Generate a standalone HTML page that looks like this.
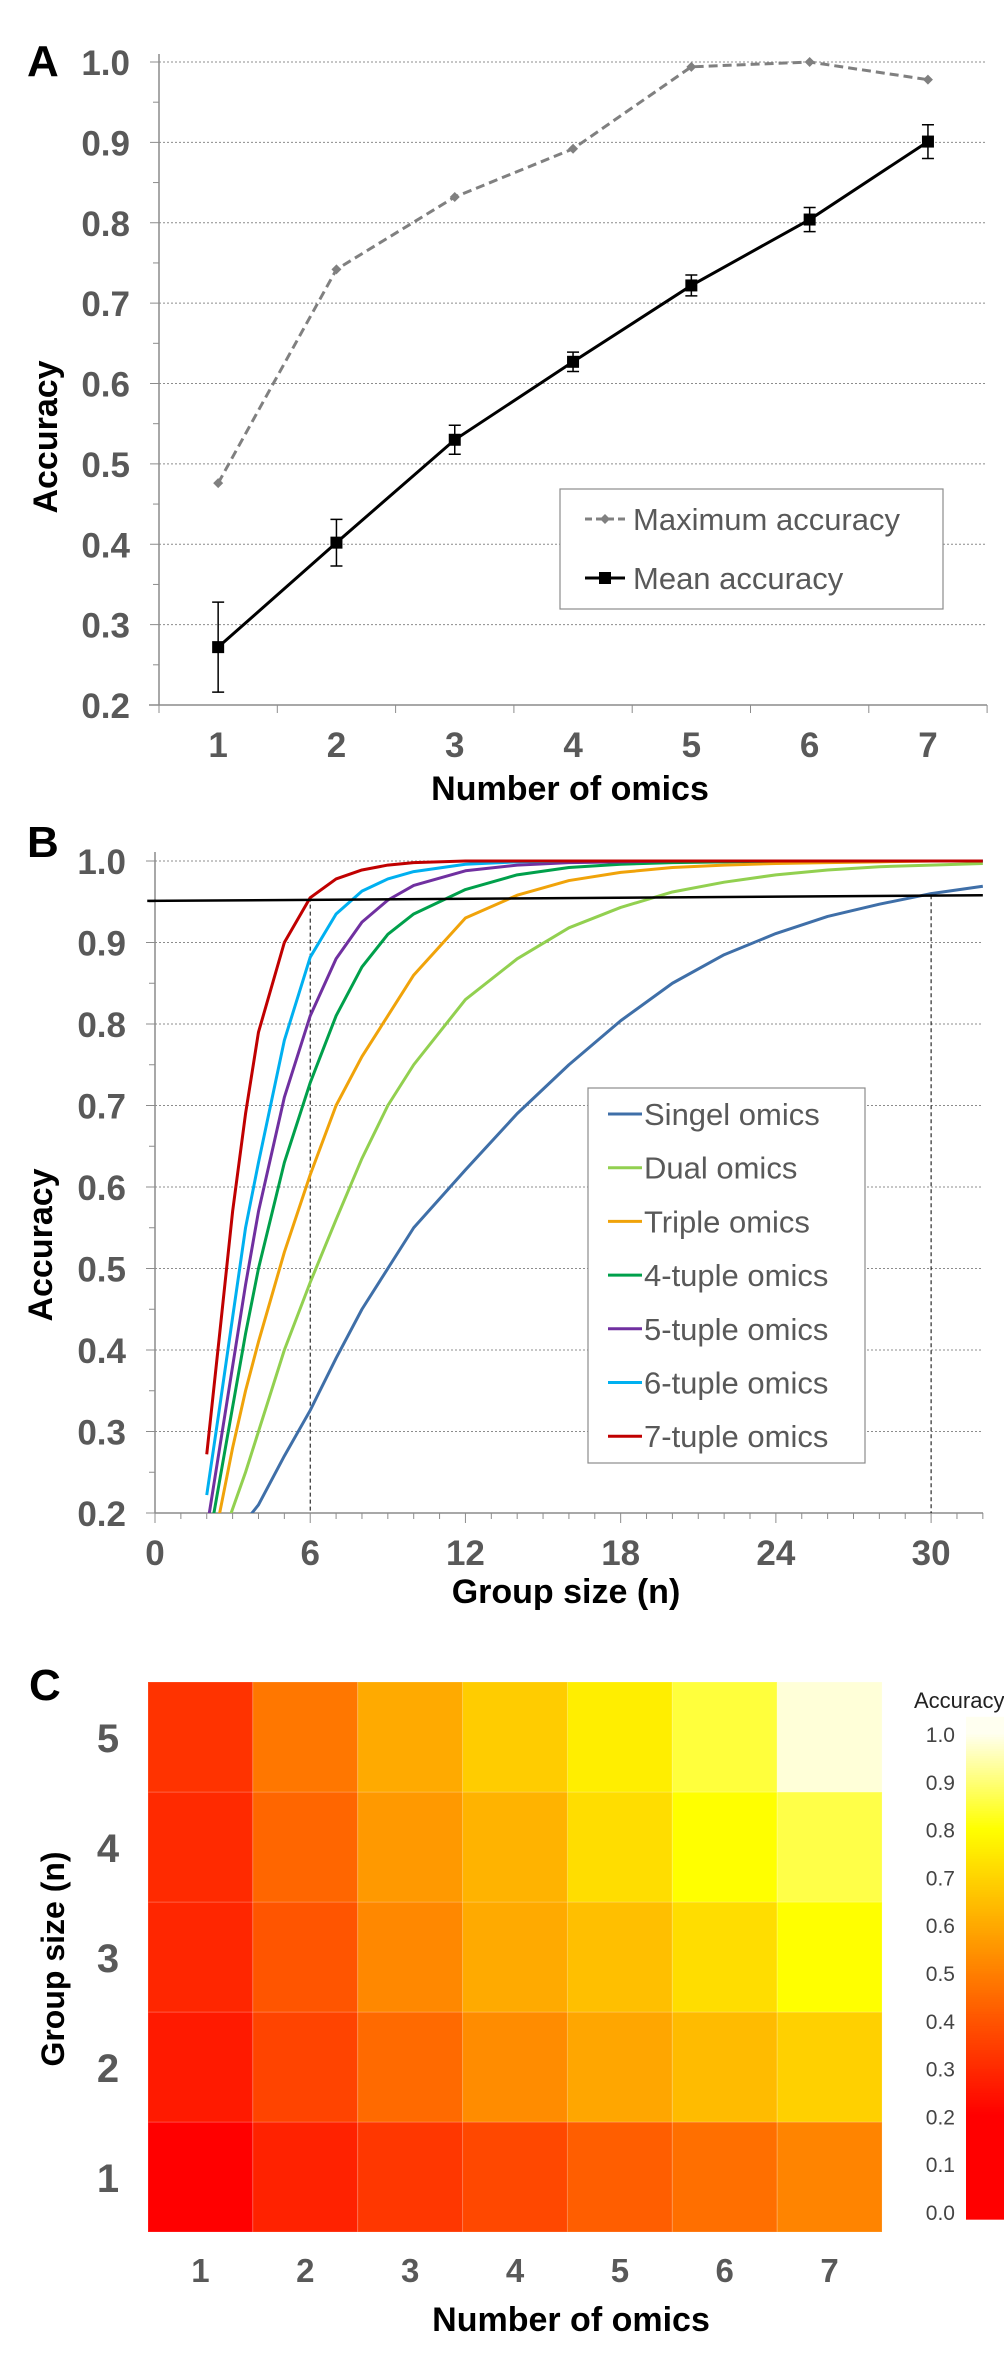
<!DOCTYPE html>
<html><head><meta charset="utf-8"><style>
html,body{margin:0;padding:0;background:#fff;}
svg{display:block;font-family:"Liberation Sans",sans-serif;}
</style></head><body>
<svg id="fig" width="1004" height="2355" viewBox="0 0 1004 2355" xmlns="http://www.w3.org/2000/svg">
<defs><clipPath id="clipB"><rect x="155" y="840" width="829" height="673"/></clipPath></defs>
<g id="pa"></g>
<g id="pb"></g>
<g id="pc"></g>
</svg>
<script>
// ---------- Panel A data ----------
const omicsCats = [1,2,3,4,5,6,7];
const maxAcc = [0.476,0.742,0.832,0.892,0.994,1.0,0.978];
const meanAcc = [0.272,0.402,0.530,0.627,0.722,0.804,0.901];
const meanErr = [0.056,0.029,0.018,0.012,0.013,0.015,0.021];
const aTicks = [0.2,0.3,0.4,0.5,0.6,0.7,0.8,0.9,1.0];
// ---------- Panel B data ----------
const groupN = [2,2.5,3,3.5,4,5,6,7,8,9,10,12,14,16,18,20,22,24,26,28,30,32];
const singleOmics = [0.10,0.13,0.16,0.19,0.21,0.27,0.326,0.39,0.45,0.50,0.55,0.621,0.69,0.75,0.804,0.85,0.885,0.911,0.932,0.947,0.96,0.969];
const dualOmics = [0.11,0.16,0.205,0.25,0.30,0.40,0.483,0.56,0.635,0.70,0.75,0.83,0.88,0.918,0.943,0.962,0.974,0.983,0.989,0.993,0.995,0.997];
const tripleOmics = [0.12,0.20,0.28,0.35,0.41,0.52,0.615,0.70,0.76,0.81,0.86,0.93,0.958,0.976,0.986,0.992,0.995,0.997,0.998,0.999,1,1];
const tuple4 = [0.15,0.24,0.33,0.42,0.50,0.63,0.728,0.81,0.87,0.91,0.935,0.965,0.983,0.992,0.996,0.998,0.999,1,1,1,1,1];
const tuple5 = [0.18,0.28,0.38,0.48,0.57,0.71,0.81,0.88,0.925,0.952,0.97,0.988,0.995,0.998,0.999,1,1,1,1,1,1,1];
const tuple6 = [0.222,0.33,0.44,0.55,0.63,0.78,0.882,0.935,0.963,0.978,0.987,0.996,0.999,1,1,1,1,1,1,1,1,1];
const tuple7 = [0.272,0.42,0.57,0.69,0.79,0.90,0.955,0.978,0.989,0.995,0.998,1,1,1,1,1,1,1,1,1,1,1];
const seriesNames = ["Singel omics","Dual omics","Triple omics","4-tuple omics","5-tuple omics","6-tuple omics","7-tuple omics"];
const seriesColors = ["#3f6fa8","#92d050","#f0a30a","#00a04b","#7030a0","#00b0f0","#c00000"];
const bTicksY = [0.2,0.3,0.4,0.5,0.6,0.7,0.8,0.9,1.0];
const bTicksX = [0,6,12,18,24,30];
const thresholdX = [-0.3,32];
const thresholdY = [0.951,0.958];
const dropX = [6,30];
const dropY = [0.955,0.958];
// ---------- Panel C data ----------
const heatCols = [1,2,3,4,5,6,7];
const heatRows = [1,2,3,4,5];
const heatRow1 = [0.20,0.28,0.33,0.37,0.42,0.46,0.51];
const heatRow2 = [0.26,0.36,0.45,0.53,0.59,0.64,0.69];
const heatRow3 = [0.29,0.40,0.52,0.60,0.65,0.72,0.80];
const heatRow4 = [0.30,0.44,0.56,0.62,0.72,0.80,0.86];
const heatRow5 = [0.32,0.48,0.60,0.68,0.76,0.85,0.98];
const cbTicks = [0.0,0.1,0.2,0.3,0.4,0.5,0.6,0.7,0.8,0.9,1.0];

const NS="http://www.w3.org/2000/svg";
function mk(parent,tag,attrs,text){const e=document.createElementNS(NS,tag);for(const k in attrs)e.setAttribute(k,attrs[k]);if(text!==undefined)e.textContent=text;parent.appendChild(e);return e;}
const pa=document.getElementById('pa'),pb=document.getElementById('pb'),pc=document.getElementById('pc');
const GREY="#595959";

// ================= Panel A =================
const xA=i=>159+(i+0.5)*118.3;
const yA=v=>62+(1-v)*803.75;
let t=mk(pa,'text',{x:27,y:76,'font-size':44,'font-weight':'bold',fill:'#000'},'A');


aTicks.forEach(v=>{
  if(v>0.21){const g=mk(pa,'line',{x1:159,x2:987,y1:yA(v),y2:yA(v),stroke:'#8c8c8c','stroke-width':1,'stroke-dasharray':'2,2'});
  
  }
  mk(pa,'line',{x1:150,x2:159,y1:yA(v),y2:yA(v),stroke:'#8c8c8c'});
  const l=mk(pa,'text',{x:130,y:yA(v)+13,'font-size':35,'font-weight':'bold',fill:GREY,'text-anchor':'end'},v.toFixed(1));
  
  
});
for(let v=0.25;v<1;v+=0.1){mk(pa,'line',{x1:153,x2:159,y1:yA(v),y2:yA(v),stroke:'#8c8c8c'});}
mk(pa,'line',{x1:159,x2:159,y1:54,y2:705,stroke:'#8c8c8c','stroke-width':1.5});
mk(pa,'line',{x1:149,x2:987,y1:705,y2:705,stroke:'#8c8c8c','stroke-width':1.5});
for(let k=0;k<=7;k++){mk(pa,'line',{x1:159+k*118.3,x2:159+k*118.3,y1:705,y2:713,stroke:'#8c8c8c'});}
omicsCats.forEach((c,i)=>{
  const l=mk(pa,'text',{x:xA(i),y:757,'font-size':35,'font-weight':'bold',fill:GREY,'text-anchor':'middle'},String(c));
  
  
});
t=mk(pa,'text',{x:570,y:800,'font-size':34,'font-weight':'bold',fill:'#000','text-anchor':'middle'},'Number of omics');


t=mk(pa,'text',{x:0,y:0,'font-size':34,'font-weight':'bold',fill:'#000','text-anchor':'middle',transform:'translate(57,437) rotate(-90)'},'Accuracy');


// max series
let pts=maxAcc.map((v,i)=>xA(i)+','+yA(v)).join(' ');
let ln=mk(pa,'polyline',{points:pts,fill:'none',stroke:'#808080','stroke-width':3,'stroke-dasharray':'9,5'});


maxAcc.forEach((v,i)=>{const x=xA(i),y=yA(v);
  const d=mk(pa,'polygon',{points:`${x},${y-5} ${x+5},${y} ${x},${y+5} ${x-5},${y}`,fill:'#808080'});
  
  
});
// mean series
meanAcc.forEach((v,i)=>{const x=xA(i);
  const e=mk(pa,'path',{d:`M${x},${yA(v+meanErr[i])}V${yA(v-meanErr[i])}M${x-6},${yA(v+meanErr[i])}H${x+6}M${x-6},${yA(v-meanErr[i])}H${x+6}`,stroke:'#000','stroke-width':1.5,fill:'none'});
  
  
});
pts=meanAcc.map((v,i)=>xA(i)+','+yA(v)).join(' ');
ln=mk(pa,'polyline',{points:pts,fill:'none',stroke:'#000','stroke-width':3});


meanAcc.forEach((v,i)=>{
  const m=mk(pa,'rect',{x:xA(i)-6,y:yA(v)-6,width:12,height:12,fill:'#000'});
  
  
});
// legend A
let lg=mk(pa,'g',{});


mk(lg,'rect',{x:560,y:489,width:383,height:120,fill:'#fff',stroke:'#8c8c8c','stroke-width':1.2});
mk(lg,'line',{x1:585,x2:625,y1:519,y2:519,stroke:'#808080','stroke-width':3,'stroke-dasharray':'7,4'});
mk(lg,'polygon',{points:'605,514 610,519 605,524 600,519',fill:'#808080'});
t=mk(lg,'text',{x:633,y:530,'font-size':31,fill:GREY},'Maximum accuracy');


mk(lg,'line',{x1:585,x2:625,y1:578,y2:578,stroke:'#000','stroke-width':3});
mk(lg,'rect',{x:599,y:572,width:12,height:12,fill:'#000'});
t=mk(lg,'text',{x:633,y:589,'font-size':31,fill:GREY},'Mean accuracy');



// ================= Panel B =================
const xB=n=>155+n*25.87;
const yB=v=>861+(1-v)*815;
t=mk(pb,'text',{x:27,y:857,'font-size':44,'font-weight':'bold',fill:'#000'},'B');


bTicksY.forEach(v=>{
  if(v>0.21){const g=mk(pb,'line',{x1:155,x2:983,y1:yB(v),y2:yB(v),stroke:'#8c8c8c','stroke-width':1,'stroke-dasharray':'2,2'});
  
  }
  mk(pb,'line',{x1:146,x2:155,y1:yB(v),y2:yB(v),stroke:'#8c8c8c'});
  const l=mk(pb,'text',{x:126,y:yB(v)+13,'font-size':35,'font-weight':'bold',fill:GREY,'text-anchor':'end'},v.toFixed(1));
  
  
});
for(let v=0.25;v<1;v+=0.1){mk(pb,'line',{x1:149,x2:155,y1:yB(v),y2:yB(v),stroke:'#8c8c8c'});}
mk(pb,'line',{x1:155,x2:155,y1:852,y2:1513,stroke:'#8c8c8c','stroke-width':1.5});
mk(pb,'line',{x1:155,x2:983,y1:1513,y2:1513,stroke:'#8c8c8c','stroke-width':1.5});
for(let n=0;n<=32;n++){mk(pb,'line',{x1:xB(n),x2:xB(n),y1:1513,y2:1513+(n%6===0?10:6),stroke:'#8c8c8c'});}
bTicksX.forEach(n=>{
  const l=mk(pb,'text',{x:xB(n),y:1565,'font-size':35,'font-weight':'bold',fill:GREY,'text-anchor':'middle'},String(n));
  
  
});
t=mk(pb,'text',{x:566,y:1603,'font-size':34,'font-weight':'bold',fill:'#000','text-anchor':'middle'},'Group size (n)');


t=mk(pb,'text',{x:0,y:0,'font-size':34,'font-weight':'bold',fill:'#000','text-anchor':'middle',transform:'translate(52,1245) rotate(-90)'},'Accuracy');


dropX.forEach((n,i)=>{
  const d=mk(pb,'line',{x1:xB(n),x2:xB(n),y1:yB(dropY[i]),y2:1513,stroke:'#000','stroke-width':1,'stroke-dasharray':'4,3'});
  
  
});
const allSeries=[singleOmics,dualOmics,tripleOmics,tuple4,tuple5,tuple6,tuple7];
const cg=mk(pb,'g',{'clip-path':'url(#clipB)'});
allSeries.forEach((s,k)=>{
  const p=mk(cg,'polyline',{points:s.map((v,i)=>xB(groupN[i])+','+yB(v)).join(' '),fill:'none',stroke:seriesColors[k],'stroke-width':3,'stroke-linejoin':'round'});
  
  
});
ln=mk(pb,'line',{x1:xB(thresholdX[0]),x2:xB(thresholdX[1]),y1:yB(thresholdY[0]),y2:yB(thresholdY[1]),stroke:'#000','stroke-width':2.5});


lg=mk(pb,'g',{});


mk(lg,'rect',{x:588,y:1088,width:277,height:375,fill:'#fff',stroke:'#8c8c8c','stroke-width':1.2});
seriesNames.forEach((nm,k)=>{const y=1114+k*53.7;
  mk(lg,'line',{x1:608,x2:642,y1:y,y2:y,stroke:seriesColors[k],'stroke-width':3});
  const e=mk(lg,'text',{x:644,y:y+11,'font-size':31,fill:GREY},nm);
  
  
});

// ================= Panel C =================
function cmap(v){
  if(v<=0.2) return 'rgb(255,0,0)';
  if(v<=0.8){const g=Math.round(255*(v-0.2)/0.6);return `rgb(255,${g},0)`;}
  const b=Math.round(Math.min(1,(v-0.8)/0.2)*240);return `rgb(255,255,${b})`;
}
t=mk(pc,'text',{x:29,y:1700,'font-size':44,'font-weight':'bold',fill:'#000'},'C');


const cw=104.86,ch=110;
const heatData=[heatRow1,heatRow2,heatRow3,heatRow4,heatRow5];
heatData.forEach((row,r)=>{
  row.forEach((v,c)=>{
    const cell=mk(pc,'rect',{x:148+c*cw,y:1682+(4-r)*ch,width:cw,height:ch,fill:cmap(v),stroke:'rgba(255,255,255,0.18)','stroke-width':1});
    
    
  });
});
heatRows.forEach((g,r)=>{
  const l=mk(pc,'text',{x:108,y:1682+(4-r)*ch+ch/2+15,'font-size':40,'font-weight':'bold',fill:GREY,'text-anchor':'middle'},String(g));
  
  
});
heatCols.forEach((c,i)=>{
  const l=mk(pc,'text',{x:148+(i+0.5)*cw,y:2282,'font-size':33,'font-weight':'bold',fill:GREY,'text-anchor':'middle'},String(c));
  
  
});
t=mk(pc,'text',{x:571,y:2331,'font-size':34,'font-weight':'bold',fill:'#000','text-anchor':'middle'},'Number of omics');


t=mk(pc,'text',{x:0,y:0,'font-size':32,'font-weight':'bold',fill:'#000','text-anchor':'middle',transform:'translate(64,1959) rotate(-90)'},'Group size (n)');


// colorbar
const yCB=v=>2212-v*478;
const cb=mk(pc,'g',{});


for(let v=-0.015;v<1.035;v+=0.005){mk(cb,'rect',{x:966,y:yCB(v+0.005)-0.5,width:38,height:3.4,fill:cmap(v)});}
cbTicks.forEach(v=>{
  const l=mk(cb,'text',{x:955,y:yCB(v)+8,'font-size':21,fill:'#444','text-anchor':'end'},v.toFixed(1));
  
  
});
t=mk(cb,'text',{x:914,y:1708,'font-size':22,fill:'#222'},'Accuracy');


</script>
</body></html>
